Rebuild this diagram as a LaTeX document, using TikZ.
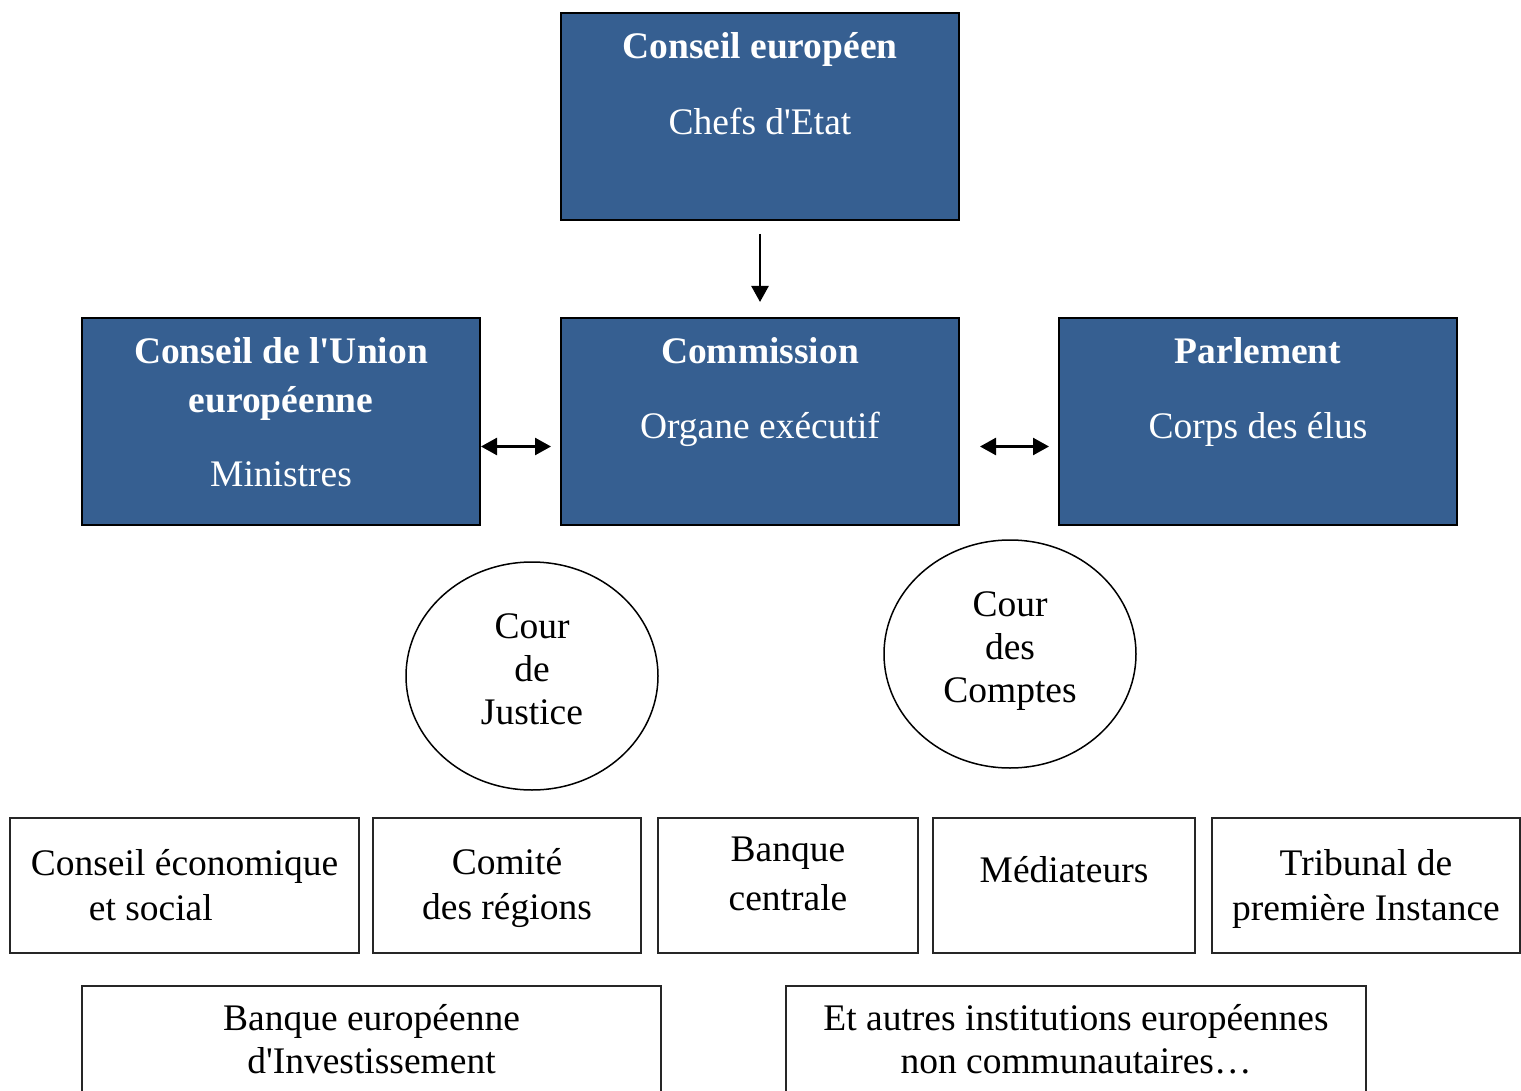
\documentclass[tikz,border=0pt]{standalone}
\usepackage{fontspec}
\setmainfont{Liberation Serif}
\usetikzlibrary{arrows.meta,positioning,shapes.geometric}
\definecolor{eublue}{RGB}{54,95,145}
\tikzset{every picture/.style={line width=1.5pt}}
\newcommand{\qs}{\textquotesingle}

\begin{document}
\begin{tikzpicture}[x=1pt,y=1pt,yscale=-1,
  bluebox/.style={draw=black,line width=2pt,fill=eublue,minimum width=398pt,minimum height=207pt,inner sep=0pt,anchor=north west},
  whitebox/.style={draw=black!85,line width=2pt,inner sep=0pt,anchor=north west},
  bigtxt/.style={font=\fontsize{37.5}{45}\selectfont,align=center,inner sep=0pt},
  titletxt/.style={bigtxt,text=white,font=\fontsize{37.5}{49}\selectfont\bfseries,anchor=base},
  subtxt/.style={bigtxt,text=white,anchor=base},
  court/.style={ellipse,draw=black,line width=1.5pt,minimum width=252pt,minimum height=228pt,inner sep=0pt},
  courttxt/.style={bigtxt,font=\fontsize{37.5}{43}\selectfont},
  linkarrow/.style={line width=2.5pt,-{Triangle[length=16pt,width=17pt]}},
  twoway/.style={line width=2.5pt,{Triangle[length=16pt,width=17pt]}-{Triangle[length=16pt,width=17pt]}}]
	\useasboundingbox (0,0) rectangle (1521,1091);

	% top row
	\node[bluebox] (ce) at (560,12) {};
	\node[titletxt] (cet) at (760,59) {Conseil européen};
	\node[subtxt] (ces) at (760,135) {Chefs d\qs Etat};

	% middle row
	\node[bluebox] (cu) at (81,317) {};
	\node[titletxt] (cut) at (281,412) {Conseil de l\qs Union\\européenne};
	\node[subtxt] (cus) at (281,486) {Ministres};

	\node[bluebox] (com) at (560,317) {};
	\node[titletxt] (comt) at (760,363) {Commission};
	\node[subtxt] (coms) at (760,438) {Organe exécutif};

	\node[bluebox] (pe) at (1058,317) {};
	\node[titletxt] (pet) at (1258,363) {Parlement};
	\node[subtxt] (pes) at (1258,438) {Corps des élus};

	% arrows
	\draw[linkarrow,shorten <=13pt,shorten >=15pt] (ce.south) -- (com.north);
	\draw[twoway,shorten >=9pt] ([yshift=25pt]cu.east) -- ([yshift=25pt]com.west);
	\draw[twoway,shorten <=20pt,shorten >=9pt] ([yshift=25pt]com.east) -- ([yshift=25pt]pe.west);

	% courts
	\node[court] (cj) at (532,676) {};
	\node[courttxt] (cjt) at (532,669) {Cour\\de\\Justice};
	\node[court] (cc) at (1010,654) {};
	\node[courttxt] (cct) at (1010,651) {Cour\\des\\Comptes};

	% bottom row
	\node[whitebox,minimum width=349pt,minimum height=135pt] (ces2) at (9,817) {};
	\node[bigtxt,align=left] (ces2t) at (ces2.center) {Conseil économique\\\hspace*{58pt}et social};
	\node[whitebox,minimum width=268pt,minimum height=135pt] (cr) at (372,817) {};
	\node[bigtxt,yshift=-3pt] (crt) at (cr.center) {Comité\\des régions};
	\node[whitebox,minimum width=260pt,minimum height=135pt] (bc) at (657,817) {};
	\node[bigtxt,font=\fontsize{37.5}{49}\selectfont,yshift=12pt] (bct) at (bc.center) {Banque\\centrale};
	\node[whitebox,minimum width=262pt,minimum height=135pt] (med) at (932,817) {};
	\node[bigtxt,yshift=16pt] (medt) at (med.center) {Médiateurs};
	\node[whitebox,minimum width=308pt,minimum height=135pt] (tpi) at (1211,817) {};
	\node[bigtxt,yshift=-3pt] (tpit) at (tpi.center) {Tribunal de\\première Instance};

	% last row, cut at the page edge
	\node[whitebox,minimum width=579pt,minimum height=140pt] (bei) at (81,985) {};
	\node[bigtxt,font=\fontsize{37.5}{43}\selectfont,anchor=base] (beit) at ([yshift=88pt]bei.north) {Banque européenne\\d\qs Investissement};
	\node[whitebox,minimum width=580pt,minimum height=140pt] (aut) at (785,985) {};
	\node[bigtxt,font=\fontsize{37.5}{43}\selectfont,anchor=base] (autt) at ([yshift=88pt]aut.north) {Et autres institutions européennes\\non communautaires\ldots};
\end{tikzpicture}
\end{document}
